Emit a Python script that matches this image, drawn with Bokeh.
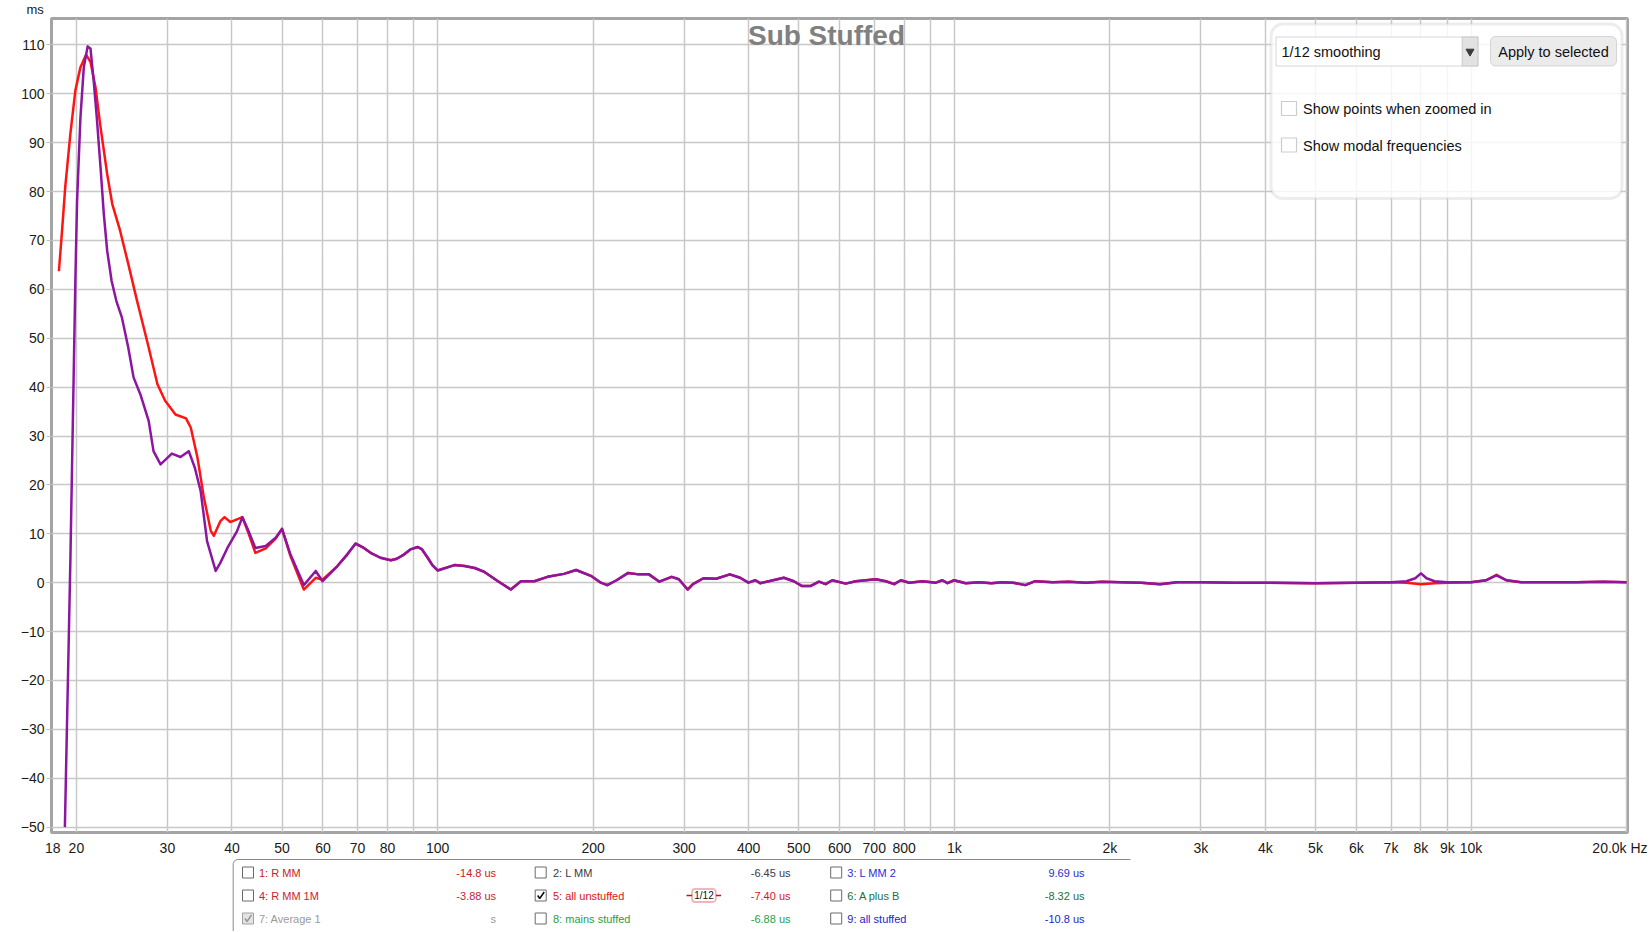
import numpy as np
from bokeh.plotting import figure
from bokeh.models import (Range1d, FixedTicker, CustomJSTickFormatter, Label,
                          BoxAnnotation, Title)
from bokeh.layouts import column
from bokeh.core.properties import value
from bokeh.embed import file_html
from bokeh.resources import INLINE

# ------------------------------------------------------------------ data
# red trace: "5: all unstuffed" (1/12 smoothing), low-frequency part
red_low_freq = [18.5, 18.74, 19.03, 19.47, 19.91, 20.36, 20.88, 21.3, 21.78, 22.27,
                22.94, 23.46, 24.3, 25.2, 26.2, 26.6, 27.6, 28.7, 29.7, 31.1,
                32.6, 33.3, 34.3, 35.3, 36.4, 36.9, 38.0, 38.7, 39.7, 41.9,
                43.1, 44.4, 46.5, 48.6, 50.0, 51.9, 55.1, 58.1, 59.9]
red_low_ms = [63.7, 71.3, 80.9, 91.8, 100.7, 105.4, 108.0, 106.5, 101.3, 93.2,
              83.6, 77.5, 72.0, 65.2, 57.7, 54.9, 48.1, 40.6, 37.2, 34.4,
              33.6, 31.7, 25.6, 17.4, 10.6, 9.6, 12.6, 13.4, 12.4, 13.4,
              10.0, 6.1, 7.0, 9.0, 11.0, 5.5, -1.4, 1.0, 0.6]

# purple trace, low-frequency part
purple_low_freq = [19.0, 19.47, 19.91, 20.06, 20.36, 20.67, 21.03, 21.3, 21.6, 21.9,
                   22.27, 22.6, 22.94, 23.4, 23.9, 24.5, 25.2, 25.8, 26.6, 27.6,
                   28.2, 29.1, 30.6, 31.8, 33.0, 33.9, 34.8, 35.8, 37.2, 38.0,
                   39.2, 40.9, 41.9, 43.1, 44.4, 46.5, 48.6, 50.0, 51.9, 55.1,
                   58.1, 59.9]
purple_low_ms = [-50.0, 4.5, 62.0, 78.0, 95.0, 105.4, 109.7, 109.2, 102.7, 95.2,
                 85.0, 75.4, 67.9, 61.7, 57.6, 54.2, 48.1, 42.0, 38.5, 33.1,
                 26.9, 24.2, 26.4, 25.7, 26.9, 23.5, 18.7, 8.5, 2.4, 4.1,
                 7.1, 10.5, 13.4, 10.5, 7.1, 7.5, 9.2, 11.0, 5.8, -0.5,
                 2.4, 0.3]

# band where both traces coincide (64 Hz - 7 kHz)
common_freq = [64, 66.9, 69.4, 72.0, 74.2, 77.5, 81.2, 83.4, 86.2, 88.6,
               91.6, 93.3, 95.7, 97.7, 100, 107.8, 112.8, 118, 123.2, 130.9,
               138.6, 145, 153.9, 163.2, 175.6, 185.4, 198, 207, 213, 222,
               233.8, 244.9, 256.5, 268.7, 283.8, 293, 304.7, 312, 327, 346,
               367.8, 385, 399.5, 412, 421, 437.5, 467.6, 489, 507.6, 526.6,
               547, 563.6, 580.5, 616, 644.6, 674, 704.6, 737, 765, 788,
               818, 868, 921, 948, 970, 999, 1052, 1116, 1180, 1237,
               1300, 1372, 1434, 1550, 1663, 1800, 1929, 2100, 2300, 2500,
               2700, 3000, 3500, 4000, 5000, 6000, 7000]
common_ms = [3.4, 5.8, 8.0, 7.1, 6.1, 5.1, 4.6, 4.9, 5.8, 6.8,
             7.3, 6.8, 5.1, 3.6, 2.5, 3.6, 3.4, 3.0, 2.2, 0.3,
             -1.4, 0.3, 0.3, 1.2, 1.8, 2.6, 1.4, 0.0, -0.5, 0.5,
             2.0, 1.7, 1.7, 0.2, 1.2, 0.7, -1.4, -0.3, 0.9, 0.8,
             1.7, 1.0, 0.0, 0.5, -0.1, 0.3, 1.0, 0.3, -0.7, -0.7,
             0.2, -0.3, 0.5, -0.2, 0.3, 0.5, 0.7, 0.3, -0.3, 0.5,
             0.0, 0.3, 0.0, 0.5, -0.1, 0.5, -0.1, 0.1, -0.1, 0.1,
             0.0, -0.5, 0.3, 0.1, 0.2, 0.0, 0.2, 0.1, 0.0, -0.3,
             0.1, 0.1, 0.0, 0.0, -0.1, 0.0, 0.1]

# high-frequency parts
red_high_freq = [7500, 8000, 8500, 9000, 10000, 10700, 11200, 11700, 12500, 14000, 16000, 18000, 20000]
red_high_ms = [0.0, -0.3, -0.1, 0.0, 0.1, 0.5, 1.6, 0.5, 0.1, 0.1, 0.1, 0.2, 0.1]
purple_high_freq = [7500, 7800, 8000, 8200, 8500, 9000, 10000, 10700, 11200, 11700, 12500, 14000, 16000, 18000, 20000]
purple_high_ms = [0.3, 0.9, 1.9, 0.9, 0.3, 0.1, 0.1, 0.5, 1.5, 0.5, 0.1, 0.1, 0.1, 0.2, 0.1]

# axes
x_label_ticks = [18, 20, 30, 40, 50, 60, 70, 80, 100, 200, 300, 400, 500, 600, 700, 800,
                 1000, 2000, 3000, 4000, 5000, 6000, 7000, 8000, 9000, 10000, 20000]
x_tick_labels = ["18", "20", "30", "40", "50", "60", "70", "80", "100", "200", "300", "400",
                 "500", "600", "700", "800", "1k", "2k", "3k", "4k", "5k", "6k", "7k", "8k",
                 "9k", "10k", "20.0k Hz\u00a0"]
x_grid_ticks = [20, 30, 40, 50, 60, 70, 80, 90, 100, 200, 300, 400, 500, 600, 700, 800, 900,
                1000, 2000, 3000, 4000, 5000, 6000, 7000, 8000, 9000, 10000, 20000]
y_ticks = [-50, -40, -30, -20, -10, 0, 10, 20, 30, 40, 50, 60, 70, 80, 90, 100, 110]
X_RANGE = (17.9, 20080)
Y_RANGE = (-51.1, 115.4)

# legend (bottom table)
legend_names = ["1: R MM", "2: L MM", "3: L MM 2", "4: R MM 1M", "5: all unstuffed",
                "6: A plus B", "7: Average 1", "8: mains stuffed", "9: all stuffed"]
legend_delays = ["-14.8 us", "-6.45 us", "9.69 us", "-3.88 us", "-7.40 us",
                 "-8.32 us", "s", "-6.88 us", "-10.8 us"]
legend_colors = ["#cc2020", "#3a3a48", "#2b2bd6", "#cc2233", "#e01414",
                 "#22703c", "#9a9a9a", "#28a048", "#2424cc"]
legend_checked = [False, False, False, False, True, False, True, False, False]

FONT = "Liberation Sans"
W = 1651
H1 = 858
H2 = 73

# frame position on the page (px)
FL, FR, FT, FB = 51, 1627, 18, 832


def fx(xp):
    lo, hi = np.log10(X_RANGE[0]), np.log10(X_RANGE[1])
    return float(10 ** (lo + (xp - FL) / (FR - FL) * (hi - lo)))


def fy(yp):
    return float(Y_RANGE[1] - (yp - FT) / (FB - FT) * (Y_RANGE[1] - Y_RANGE[0]))


# ------------------------------------------------------------------ main plot
p = figure(width=W, height=H1, x_axis_type="log",
           x_range=Range1d(*X_RANGE), y_range=Range1d(*Y_RANGE),
           output_backend="svg", toolbar_location=None,
           min_border_left=FL, min_border_right=W - FR,
           min_border_top=FT, min_border_bottom=H1 - FB)
p.background_fill_color = "white"
p.border_fill_color = "white"
p.outline_line_color = "#a4a4a4"
p.outline_line_width = 3

p.xgrid.ticker = FixedTicker(ticks=x_grid_ticks)
p.ygrid.ticker = FixedTicker(ticks=y_ticks)
for g in (p.xgrid, p.ygrid):
    g.grid_line_color = "#c8c8c8"
    g.grid_line_width = 1.5

p.xaxis.ticker = FixedTicker(ticks=x_label_ticks)
p.xaxis.formatter = CustomJSTickFormatter(
    args=dict(xt=x_label_ticks, xl=x_tick_labels),
    code="const i = xt.indexOf(tick); return i >= 0 ? xl[i] : '';")
p.yaxis.ticker = FixedTicker(ticks=y_ticks)
for ax in (p.xaxis, p.yaxis):
    ax.axis_line_color = None
    ax.major_label_text_font = FONT
    ax.major_label_text_font_size = "14px"
    ax.major_label_text_color = "#1a1a1a"
    ax.minor_tick_line_color = None
p.xaxis.major_tick_line_color = None
p.xaxis.major_tick_out = 0
p.xaxis.major_tick_in = 0
p.xaxis.major_label_standoff = 7
p.yaxis.major_tick_line_color = "#c0c0c0"
p.yaxis.major_tick_out = 5
p.yaxis.major_tick_in = 0
p.yaxis.major_label_standoff = 2

# unit label of the y axis, top left
p.add_layout(Title(text="ms", align="left", offset=-25, standoff=0, vertical_align="top",
                   text_font=FONT, text_font_size="13px", text_font_style="normal",
                   text_color="#1a1a1a"), "above")

red_f = red_low_freq + common_freq + red_high_freq
red_v = red_low_ms + common_ms + red_high_ms
pur_f = purple_low_freq + common_freq + purple_high_freq
pur_v = purple_low_ms + common_ms + purple_high_ms
p.line(red_f, red_v, line_color="#ff1414", line_width=2.5, line_join="round")
p.line(pur_f, pur_v, line_color="#8c16a0", line_width=2.5, line_join="round")

# chart title
p.add_layout(Label(x=fx(826), y=fy(34.5), text="Sub Stuffed", text_font=FONT,
                   text_font_size="28px", text_font_style="bold", text_color="#808080",
                   text_align="center", text_baseline="middle"))

# control panel (top right)
p.add_layout(BoxAnnotation(left=fx(1270.5), right=fx(1621.5), top=fy(23.5), bottom=fy(198),
                           fill_color="white", fill_alpha=0.82, line_color="#c2c2c2",
                           line_width=3, border_radius=12))
p.add_layout(BoxAnnotation(left=fx(1275.5), right=fx(1477.5), top=fy(36.5), bottom=fy(65.5),
                           fill_color="white", fill_alpha=1, line_color="#7c7c7c", line_width=1))
p.add_layout(BoxAnnotation(left=fx(1461.5), right=fx(1477.5), top=fy(36.5), bottom=fy(65.5),
                           fill_color="#e2e2e2", fill_alpha=1, line_color="#8c8c8c", line_width=1))
p.add_layout(BoxAnnotation(left=fx(1490), right=fx(1616), top=fy(36), bottom=fy(65.5),
                           fill_color="#ebebeb", fill_alpha=1, line_color="#8a8a8a",
                           line_width=1, border_radius=5))
for ytop in (101, 137.5):
    p.add_layout(BoxAnnotation(left=fx(1281), right=fx(1296), top=fy(ytop), bottom=fy(ytop + 14),
                               fill_color="white", fill_alpha=1, line_color="#555555", line_width=1.2))
tri = p.scatter(x=[fx(1469.5)], y=[fy(51)], marker="inverted_triangle", size=8,
                color="#3a3a3a")
tri.level = "overlay"
for xp, yp, txt, al in [(1281, 51.5, "1/12 smoothing", "left"),
                        (1553, 51.5, "Apply to selected", "center"),
                        (1302.5, 108.5, "Show points when zoomed in", "left"),
                        (1302.5, 145, "Show modal frequencies", "left")]:
    p.add_layout(Label(x=fx(xp), y=fy(yp), text=txt, text_font=FONT, text_font_size="14.5px",
                       text_color="#111111", text_align=al, text_baseline="middle"))

# ------------------------------------------------------------------ legend strip
# the frame of this strip is aligned with the main frame, so x is in page px
p2 = figure(width=W, height=H2, x_range=Range1d(FL, FR), y_range=Range1d(H2, 0),
            output_backend="svg", toolbar_location=None, min_border=0,
            min_border_left=FL, min_border_right=W - FR,
            x_axis_location=None, y_axis_location=None)
p2.outline_line_color = None
p2.grid.visible = False
p2.background_fill_color = "white"
p2.border_fill_color = "white"

# legend box border (top and left edges)
p2.line([232.7, 232.7, 234.0, 236.7, 1130], [H2, 5, 2.3, 1, 1], line_color="#8a8a8a", line_width=1)

col_box = [247.5, 540.2, 835.7]
col_text = [258.5, 552.5, 846.8]
col_val = [495.6, 790.0, 1084.0]
row_y = [14, 37, 60]

bx, by, bfill, bline = [], [], [], []
tx, ty, vx = [], [], []
checks_x, checks_y, checks_c = [], [], []
for i, name in enumerate(legend_names):
    r, c = divmod(i, 3)
    bx.append(col_box[c]); by.append(row_y[r])
    grey = name.startswith("7")
    bfill.append("#e4e4e4" if grey else "white")
    bline.append("#a0a0a0" if grey else "#6a6a6a")
    tx.append(col_text[c]); ty.append(row_y[r]); vx.append(col_val[c])
    if legend_checked[i]:
        cx0, cy0 = col_box[c], row_y[r]
        checks_x.append([cx0 - 3, cx0 - 1, cx0 + 3.5])
        checks_y.append([cy0, cy0 + 3, cy0 - 3.5])
        checks_c.append("#9a9a9a" if grey else "#111111")

p2.rect(x=bx, y=by, width=11, height=11, fill_color=bfill, line_color=bline, line_width=1)
p2.multi_line(xs=checks_x, ys=checks_y, line_color=checks_c, line_width=1.6)
p2.text(x=tx, y=ty, text=legend_names, text_color=legend_colors, text_font=value(FONT),
        text_font_size="11px", text_baseline="middle", text_align="left")
p2.text(x=vx, y=ty, text=legend_delays, text_color=legend_colors, text_font=value(FONT),
        text_font_size="11px", text_baseline="middle", text_align="right")

# smoothing badge next to "5: all unstuffed"
p2.multi_line(xs=[[686, 692], [715, 720.5]], ys=[[37, 37], [37, 37]],
              line_color="#d01010", line_width=1.5)
p2.add_layout(BoxAnnotation(left=691.6, right=715.3, top=30.5, bottom=43.5,
                            fill_color="white", fill_alpha=1, line_color="#d01010",
                            line_width=1.8, border_radius=3))
p2.add_layout(Label(x=703.5, y=37, text="1/12", text_font=FONT, text_font_size="10px",
                    text_color="#111111", text_align="center", text_baseline="middle"))

layout = column(p, p2, spacing=0)
open("out.html", "w").write(file_html(layout, INLINE))
